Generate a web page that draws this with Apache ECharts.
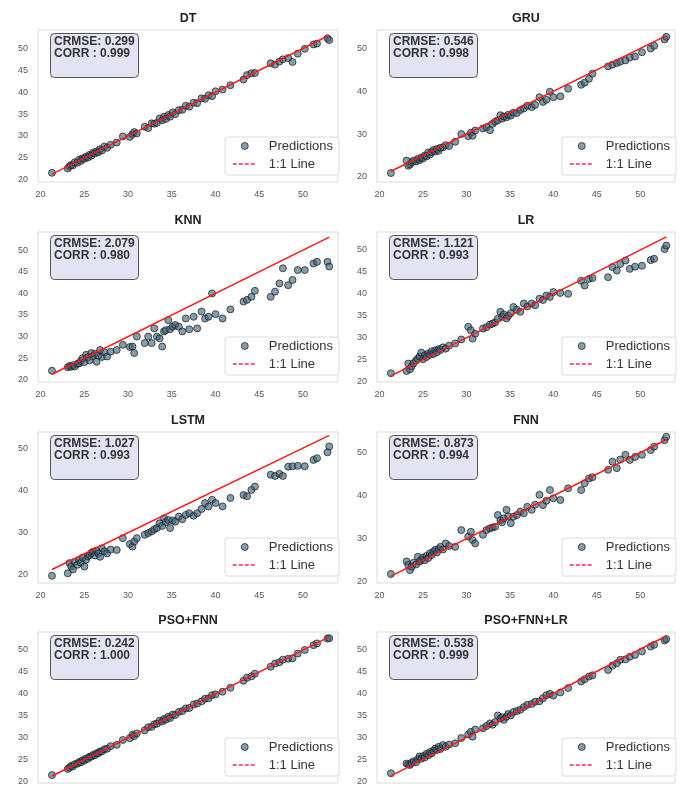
<!DOCTYPE html>
<html>
<head>
<meta charset="utf-8">
<script src="https://cdn.jsdelivr.net/npm/echarts@6/dist/echarts.min.js"></script>
<style>
  html, body { margin: 0; padding: 0; background: #ffffff; }
  #chart { width: 685px; height: 789px; }
</style>
</head>
<body>
<div id="chart"></div>
<script>
// Observed values (shared test set)
const actual = [
  21.3, 23.1, 23.3, 23.5, 23.7, 23.9, 24.2, 24.4, 24.6, 24.8, 25.0, 25.2,
  25.4, 25.6, 25.8, 26.0, 26.2, 26.4, 26.6, 26.8, 27.0, 27.3, 27.6, 28.0,
  28.7, 29.4, 30.2, 30.5, 30.7, 31.0, 31.9, 32.3, 32.7, 33.0, 33.3, 33.6,
  33.9, 34.1, 34.3, 34.6, 34.8, 35.1, 35.4, 35.8, 36.2, 36.6, 37.0, 37.5,
  37.9, 38.4, 38.8, 39.2, 39.6, 40.0, 40.8, 41.7, 43.2, 43.6, 44.1, 44.5,
  46.3, 46.8, 47.3, 47.7, 48.3, 48.8, 49.4, 50.2, 51.2, 51.6, 52.8, 53.0
];

// Model predictions, aligned with `actual`
const predDT = [
  21.6, 22.6, 23.1, 23.4, 23.3, 24.0, 23.9, 24.6, 24.3, 24.9, 24.8, 25.3,
  25.1, 25.7, 25.5, 26.2, 26.0, 26.5, 26.3, 27.0, 26.7, 27.6, 27.3, 28.0,
  28.5, 29.9, 29.8, 30.4, 30.9, 30.6, 32.1, 31.8, 32.9, 32.8, 33.0, 34.0,
  33.6, 34.4, 33.9, 34.8, 34.4, 35.4, 35.0, 35.9, 36.0, 36.9, 36.7, 37.6,
  37.5, 38.6, 38.5, 39.3, 39.1, 40.2, 40.6, 41.6, 42.9, 43.9, 44.3, 44.4,
  46.6, 46.3, 47.0, 47.5, 47.8, 46.9, 48.8, 49.9, 50.9, 51.1, 52.3, 51.9
];
const predGRU = [
  20.9, 23.8, 22.6, 22.9, 23.4, 23.8, 23.6, 24.2, 23.9, 24.5, 24.3, 25.0,
  24.8, 25.7, 25.2, 25.8, 26.3, 25.9, 26.5, 26.1, 26.8, 26.9, 27.4, 27.2,
  28.2, 30.0, 29.5, 30.3, 29.6, 30.8, 31.3, 31.6, 30.9, 32.4, 32.9, 33.2,
  34.4, 33.6, 34.1, 33.9, 34.5, 34.3, 35.0, 34.9, 35.6, 36.0, 36.6, 36.3,
  36.8, 38.6, 37.5, 38.0, 39.9, 38.6, 38.8, 40.6, 41.5, 42.0, 42.9, 44.1,
  45.8, 46.2, 46.6, 46.9, 47.2, 47.9, 48.1, 49.1, 50.0, 50.6, 52.1, 52.7
];
const predKNN = [
  22.1, 22.9, 23.2, 23.0, 23.4, 23.1, 23.7, 23.8, 24.4, 25.0, 24.1, 25.8,
  25.2, 24.5, 26.2, 25.5, 26.0, 24.2, 25.6, 26.9, 25.3, 26.4, 25.4, 26.5,
  26.9, 28.1, 27.6, 27.7, 26.2, 30.0, 28.5, 30.0, 28.5, 31.9, 30.0, 29.6,
  27.7, 31.2, 31.5, 33.8, 31.7, 32.3, 32.7, 32.3, 31.2, 34.2, 31.7, 34.6,
  31.9, 35.8, 34.2, 34.6, 40.0, 35.2, 34.2, 36.3, 38.1, 38.5, 39.2, 40.6,
  39.2, 40.4, 42.3, 45.8, 41.9, 43.1, 45.4, 45.4, 46.9, 47.3, 47.3, 46.2
];
const predLR = [
  21.9, 22.4, 24.1, 22.8, 23.5, 24.2, 24.8, 25.2, 25.7, 26.6, 25.1, 26.0,
  25.6, 26.4, 26.1, 26.9, 26.3, 27.1, 26.7, 27.4, 27.2, 27.8, 27.5, 28.2,
  28.7, 29.6, 32.5, 31.7, 29.8, 30.9, 32.1, 32.4, 33.0, 33.2, 33.5, 34.3,
  35.9, 34.8, 35.3, 34.4, 35.0, 35.6, 37.0, 36.4, 35.9, 37.8, 37.1, 37.8,
  37.4, 38.9, 38.6, 39.6, 39.3, 40.4, 40.2, 40.0, 43.0, 41.9, 43.4, 43.6,
  43.8, 46.1, 45.3, 46.8, 47.6, 45.7, 46.2, 46.4, 47.7, 48.0, 50.2, 51.0
];
const predLSTM = [
  19.8, 20.4, 22.8, 22.0, 21.3, 23.1, 22.4, 23.6, 22.9, 24.1, 22.0, 23.6,
  24.4, 24.7, 25.2, 25.5, 24.6, 25.8, 25.1, 24.3, 26.3, 25.6, 25.1, 26.0,
  25.9, 28.7, 27.3, 26.7, 27.9, 28.7, 29.5, 29.9, 30.3, 30.8, 31.1, 32.2,
  31.6, 33.4, 32.5, 33.0, 31.1, 32.9, 32.6, 33.8, 33.2, 34.2, 34.6, 34.0,
  34.6, 35.6, 37.0, 36.2, 37.8, 37.0, 36.2, 38.2, 38.9, 38.6, 40.1, 40.9,
  43.7, 43.4, 43.9, 43.4, 45.6, 45.7, 45.8, 45.7, 47.2, 47.6, 49.0, 50.4
];
const predFNN = [
  21.8, 24.7, 23.9, 22.7, 23.5, 24.4, 24.0, 25.8, 24.7, 25.1, 25.6, 25.0,
  26.0, 25.5, 26.6, 26.2, 27.0, 27.4, 26.8, 27.6, 28.1, 27.5, 28.9, 28.3,
  28.1, 32.0, 30.5, 31.6, 29.7, 28.9, 30.9, 32.0, 32.4, 32.6, 32.8, 35.5,
  34.3, 33.8, 34.7, 36.7, 35.2, 33.6, 35.1, 35.5, 36.3, 35.9, 37.4, 36.7,
  37.9, 40.2, 37.8, 38.8, 41.3, 39.4, 39.0, 41.7, 41.3, 42.9, 44.0, 44.3,
  46.0, 47.9, 46.4, 48.4, 49.5, 48.3, 49.0, 49.5, 50.6, 51.4, 52.9, 53.7
];
const predPSOFNN = [
  21.5, 22.9, 23.2, 23.6, 23.5, 24.0, 24.1, 24.5, 24.4, 24.9, 24.8, 25.3,
  25.2, 25.7, 25.7, 26.1, 26.0, 26.5, 26.5, 26.9, 26.9, 27.4, 27.5, 28.1,
  28.4, 29.5, 29.9, 30.7, 30.4, 31.0, 31.7, 32.4, 32.5, 33.1, 33.2, 33.9,
  33.7, 34.3, 34.1, 34.8, 34.5, 35.3, 35.2, 35.9, 36.1, 36.7, 36.8, 37.6,
  37.8, 38.3, 38.9, 39.0, 39.7, 39.9, 40.5, 41.4, 43.0, 43.7, 44.0, 44.6,
  46.2, 46.9, 47.2, 47.8, 48.0, 48.1, 49.2, 50.0, 51.1, 51.5, 52.6, 52.7
];
const predPSOFNNLR = [
  21.9, 24.1, 23.9, 23.8, 24.3, 24.6, 24.4, 25.1, 25.7, 25.2, 25.8, 25.5,
  26.3, 26.0, 26.7, 26.4, 27.0, 27.5, 27.2, 27.9, 27.4, 28.3, 27.9, 28.4,
  28.7, 29.9, 30.7, 31.3, 30.2, 31.8, 32.1, 32.6, 33.2, 32.9, 33.5, 35.0,
  34.3, 34.6, 34.0, 34.7, 35.3, 35.0, 35.8, 36.0, 36.3, 36.9, 37.4, 37.6,
  38.1, 38.2, 38.9, 39.6, 39.9, 39.5, 40.2, 41.2, 42.7, 43.2, 43.8, 44.1,
  45.3, 46.3, 46.8, 47.6, 47.7, 48.3, 48.7, 49.5, 50.6, 51.0, 52.0, 52.3
];

const models = ['DT', 'GRU', 'KNN', 'LR', 'LSTM', 'FNN', 'PSO+FNN', 'PSO+FNN+LR'];
const predictions = [predDT, predGRU, predKNN, predLR, predLSTM, predFNN, predPSOFNN, predPSOFNNLR];
const crmse = ['0.299', '0.546', '2.079', '1.121', '1.027', '0.873', '0.242', '0.538'];
const corr = ['0.999', '0.998', '0.980', '0.993', '0.993', '0.994', '1.000', '0.999'];

const xTicks = [20, 25, 30, 35, 40, 45, 50];
const yTicksFine = [20, 25, 30, 35, 40, 45, 50];
const yTicksCoarse = [20, 30, 40, 50];
const yTicks = [yTicksFine, yTicksCoarse, yTicksFine, yTicksFine, yTicksCoarse, yTicksCoarse, yTicksFine, yTicksFine];

// Axis extents per panel
const xMin = 19.7, xMax = 54.0;
const yMin = [19.5, 18.8, 19.5, 19.9, 18.1, 19.7, 19.7, 19.7];
const yMax = [54.2, 54.3, 54.2, 54.1, 53.8, 54.8, 54.1, 53.9];

// Layout of the 4x2 panel grid (pixels)
const colLeft = [38, 377];
const colWidth = [300, 298];
const rowTop = [30, 232, 432, 632];
const rowHeight = [152, 150, 151, 151];

const FONT = 'Liberation Sans, Arial, sans-serif';
const lo = Math.min(...actual), hi = Math.max(...actual);

const grid = [], xAxis = [], yAxis = [], series = [], title = [], legend = [];

models.forEach((name, i) => {
  const c = i % 2, r = Math.floor(i / 2);
  const gl = colLeft[c], gw = colWidth[c], gt = rowTop[r], gh = rowHeight[r];

  grid.push({
    left: gl, top: gt, width: gw, height: gh,
    show: true, backgroundColor: '#ffffff', borderColor: '#d9d9d9', borderWidth: 1,
    containLabel: false, outerBoundsMode: 'none'
  });

  xAxis.push({
    type: 'value', gridIndex: i, min: xMin, max: xMax,
    axisLine: { show: false }, axisTick: { show: false }, splitLine: { show: false },
    axisLabel: { customValues: xTicks, color: '#555', fontSize: 9, fontFamily: FONT, margin: 8 }
  });
  yAxis.push({
    type: 'value', gridIndex: i, min: yMin[i], max: yMax[i],
    axisLine: { show: false }, axisTick: { show: false }, splitLine: { show: false },
    axisLabel: { customValues: yTicks[i], color: '#555', fontSize: 9, fontFamily: FONT, margin: 10 }
  });

  series.push({
    type: 'scatter', name: 'Predictions', xAxisIndex: i, yAxisIndex: i,
    data: actual.map((a, k) => [a, predictions[i][k]]),
    symbol: 'circle', symbolSize: 7,
    itemStyle: { color: 'rgba(58,100,125,0.78)', borderColor: '#1a1a1a', borderWidth: 0.9 },
    z: 2
  });
  series.push({
    type: 'line', name: '1:1 Line', xAxisIndex: i, yAxisIndex: i,
    data: [[lo, lo], [hi, hi]],
    symbol: 'none',
    lineStyle: { color: '#ff1a1a', width: 1.5, type: 'solid' },
    z: 3
  });

  // panel heading
  title.push({
    text: name, left: gl + gw / 2, top: gt - 18, textAlign: 'center', padding: 0,
    textStyle: { fontSize: 12.5, fontWeight: 'bold', color: '#222', fontFamily: FONT }
  });
  // metrics box
  title.push({
    text: 'CRMSE: ' + crmse[i] + '\nCORR : ' + corr[i],
    left: gl + 12, top: gt + 3,
    backgroundColor: '#e3e3f4', borderColor: '#555', borderWidth: 1, borderRadius: 4,
    padding: [3, 4, 18, 4],
    textStyle: { fontSize: 12, fontWeight: 'bold', color: '#333', fontFamily: FONT, lineHeight: 11.5 }
  });

  legend.push({
    data: [
      { name: 'Predictions', icon: 'circle', itemStyle: { color: 'rgba(58,100,125,0.78)', borderColor: '#1a1a1a', borderWidth: 0.9 } },
      { name: '1:1 Line', lineStyle: { type: [4, 2], color: '#ff2850', width: 1.5 },
        itemStyle: { color: 'rgba(0,0,0,0)', borderColor: 'rgba(0,0,0,0)', borderWidth: 0 } }
    ],
    orient: 'vertical', left: gl + gw - 113, top: gt + gh - 45,
    backgroundColor: 'rgba(255,255,255,0.9)', borderColor: '#dcdcdc', borderWidth: 1, borderRadius: 3,
    padding: [2, 6, 4, 7], itemWidth: 24, itemHeight: 7, itemGap: 4,
    selectedMode: false,
    textStyle: { fontSize: 13, color: '#333', fontFamily: FONT, lineHeight: 14, padding: [0, 0, 0, 7] }
  });
});

const chart = echarts.init(document.getElementById('chart'), null, { renderer: 'canvas' });
chart.setOption({
  backgroundColor: '#ffffff',
  animation: false,
  title, legend, grid, xAxis, yAxis, series
});
</script>
</body>
</html>
